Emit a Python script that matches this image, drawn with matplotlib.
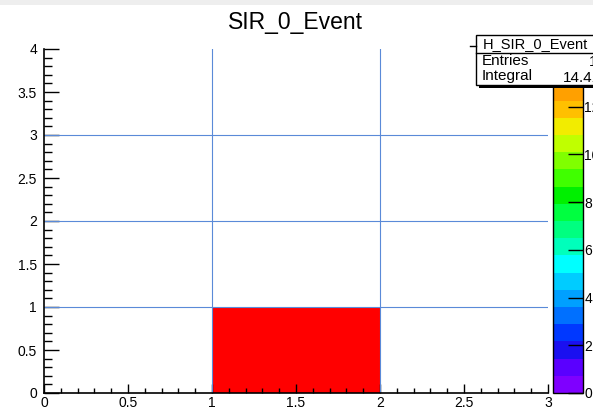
import numpy as np
import matplotlib
matplotlib.use("Agg")
import matplotlib.pyplot as plt
from matplotlib.colors import ListedColormap, BoundaryNorm
from matplotlib.ticker import MultipleLocator

plt.rcParams['font.family'] = ['Liberation Sans', 'DejaVu Sans']

# histogram definition
hist_name = "H_SIR_0_Event"
title = "SIR_0_Event"
x_edges = [0, 1, 2, 3]
y_edges = [0, 1, 2, 3, 4]
# bin contents (rows = y bins, cols = x bins)
contents = [
    [0.0, 14.41, 0.0],
    [0.0, 0.0, 0.0],
    [0.0, 0.0, 0.0],
    [0.0, 0.0, 0.0],
]
entries = 1
integral = 14.41
z_max = 14.41
n_contours = 20
cbar_ticks = [0, 2, 4, 6, 8, 10, 12, 14]

# rainbow palette, violet -> red
palette = [
    "#7f00ff", "#5a00ff", "#1a10f0", "#0038ff", "#0070ff",
    "#00a0ff", "#00ccff", "#00ffff", "#00ffbb", "#00ff80",
    "#00ff40", "#00f000", "#40ff00", "#80ff00", "#c0ff00",
    "#f2ec00", "#ffc000", "#ffa000", "#ff7000", "#ff0000",
]

fig = plt.figure(figsize=(5.93, 4.09), dpi=100)
fig.patch.set_facecolor("white")

ax = fig.add_axes([44/593, 16/409, 504/593, 344/409])
cax = fig.add_axes([553/593, 16/409, 30/593, 344/409])

cmap = ListedColormap(palette)
levels = np.linspace(0, z_max, n_contours + 1)
norm = BoundaryNorm(levels, cmap.N)

data = np.ma.masked_equal(np.array(contents), 0.0)
ax.pcolormesh(x_edges, y_edges, data, cmap=cmap, norm=norm, zorder=1)

ax.set_xlim(x_edges[0], x_edges[-1])
ax.set_ylim(y_edges[0], y_edges[-1])

# grid at integer positions
for xv in [1, 2]:
    ax.axvline(xv, color="#5a8ad8", lw=0.8, zorder=2)
for yv in [1, 2, 3]:
    ax.axhline(yv, color="#5a8ad8", lw=0.8, zorder=2)

ax.xaxis.set_major_locator(MultipleLocator(0.5))
ax.xaxis.set_minor_locator(MultipleLocator(0.1))
ax.yaxis.set_major_locator(MultipleLocator(0.5))
ax.yaxis.set_minor_locator(MultipleLocator(0.1))

ax.set_xticks([0, 0.5, 1, 1.5, 2, 2.5, 3])
ax.set_xticklabels(["0", "0.5", "1", "1.5", "2", "2.5", "3"])
ax.set_yticks([0, 0.5, 1, 1.5, 2, 2.5, 3, 3.5, 4])
ax.set_yticklabels(["0", "0.5", "1", "1.5", "2", "2.5", "3", "3.5", "4"])

ax.tick_params(axis="x", which="major", direction="in", length=6.5, width=1.0,
               labelsize=10, pad=2, top=False)
ax.tick_params(axis="x", which="minor", direction="in", length=3.5, width=1.0, top=False)
ax.tick_params(axis="y", which="major", direction="in", length=11, width=1.0,
               labelsize=10, pad=5, right=False)
ax.tick_params(axis="y", which="minor", direction="in", length=5.5, width=1.0, right=False)

for side in ["top", "right"]:
    ax.spines[side].set_visible(False)
for side in ["left", "bottom"]:
    ax.spines[side].set_linewidth(1.2)

# colour scale
cb = fig.colorbar(plt.cm.ScalarMappable(norm=norm, cmap=cmap), cax=cax,
                  ticks=cbar_ticks)
cb.outline.set_linewidth(1.0)
cax.yaxis.set_ticks_position("right")
cax.tick_params(axis="y", direction="in", length=11, width=1.0, labelsize=10, pad=1)
cax.set_yticklabels([str(t) for t in cbar_ticks])
cax.minorticks_off()

fig.text(295/593, 1 - 22/409, title, ha="center", va="center", fontsize=16.5)

# light strip along the top edge
fig.add_artist(plt.Rectangle((0, 1 - 5/409), 1, 5/409, transform=fig.transFigure,
                             facecolor="#eeeeee", edgecolor="none"))

# statistics box
bx0, bx1 = 476/593, 640/593
by_top, by_mid, by_bot = 1 - 35/409, 1 - 53/409, 1 - 85/409
fig.add_artist(plt.Rectangle((bx0 + 3/593, by_bot - 3/409), bx1 - bx0, by_top - by_bot,
                             transform=fig.transFigure, facecolor="black",
                             edgecolor="none", zorder=5))
fig.add_artist(plt.Rectangle((bx0, by_bot), bx1 - bx0, by_top - by_bot,
                             transform=fig.transFigure, facecolor="white",
                             edgecolor="black", lw=1.0, zorder=6))
fig.add_artist(plt.Line2D([bx0, bx1], [by_mid, by_mid], transform=fig.transFigure,
                          color="black", lw=1.0, zorder=7))
fig.add_artist(plt.Line2D([470/593, bx0], [1 - 46/409, 1 - 46/409],
                          transform=fig.transFigure, color="black", lw=1.0, zorder=7))
fig.text(483/593, (by_top + by_mid) / 2, hist_name, ha="left", va="center",
         fontsize=10.5, zorder=8)
fig.text(482/593, 1 - 61/409, "Entries", ha="left", va="center", fontsize=11, zorder=8)
fig.text(482/593, 1 - 76/409, "Integral", ha="left", va="center", fontsize=11, zorder=8)
fig.text(597/593, 1 - 62/409, f"{entries}", ha="right", va="center", fontsize=11,
         zorder=8)
fig.text(601/593, 1 - 78/409, f"{integral:.2f}", ha="right", va="center",
         fontsize=11, zorder=8)

fig.savefig("out.png", dpi=100)
